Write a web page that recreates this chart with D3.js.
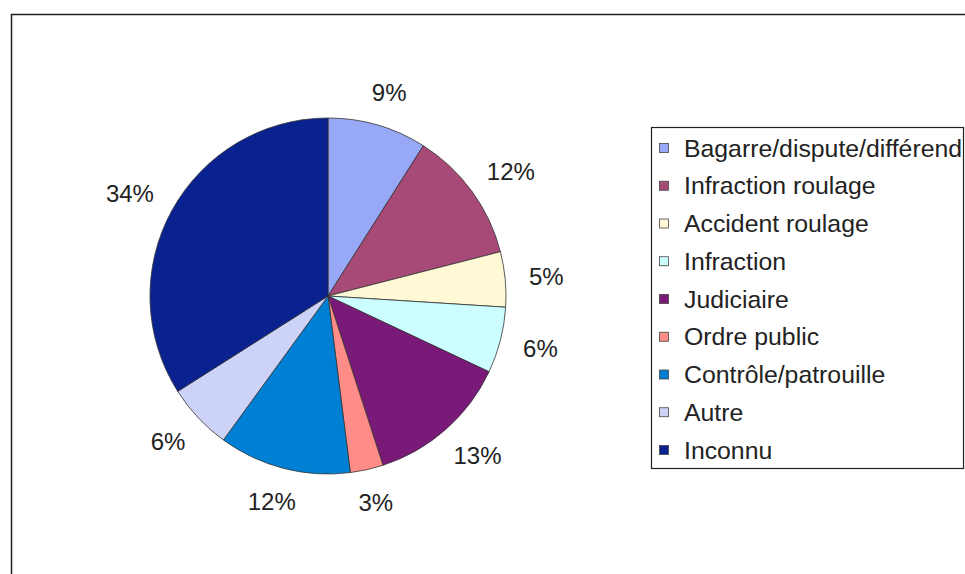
<!DOCTYPE html>
<html>
<head>
<meta charset="utf-8">
<script src="https://cdn.jsdelivr.net/npm/d3@7"></script>
<style>
  html, body { margin: 0; padding: 0; background: #fff; }
  svg { display: block; }
</style>
</head>
<body>
<svg id="chart" width="965" height="574"></svg>
<script>
// Interventions by type (percent of total)
const categories = [
  "Bagarre/dispute/différend",
  "Infraction roulage",
  "Accident roulage",
  "Infraction",
  "Judiciaire",
  "Ordre public",
  "Contrôle/patrouille",
  "Autre",
  "Inconnu"
];
const values = [9, 12, 5, 6, 13, 3, 12, 6, 34];
const colors = [
  "#97a8f6", "#a84a78", "#fff9d6", "#ccfdff", "#7a1a78",
  "#ff8c86", "#0080d4", "#cdd3f8", "#0a2290"
];

const svg = d3.select("#chart");
const font = "'Liberation Sans', Arial, sans-serif";
const fontSize = 24;
const legendFontSize = 24.8;

// Outer frame (runs off the right and bottom edges)
svg.append("rect")
  .attr("x", 11.5).attr("y", 14.5)
  .attr("width", 1000).attr("height", 600)
  .attr("fill", "none").attr("stroke", "#222").attr("stroke-width", 1.5);

const cx = 328, cy = 296, r = 178;
const data = categories.map((c, i) => ({ name: c, value: values[i], color: colors[i] }));

const pie = d3.pie().value(d => d.value).sort(null);
const arcs = pie(data);
const arc = d3.arc().innerRadius(0).outerRadius(r);

const g = svg.append("g").attr("transform", `translate(${cx},${cy})`);

g.selectAll("path.slice")
  .data(arcs)
  .join("path")
  .attr("class", "slice")
  .attr("d", arc)
  .attr("fill", d => d.data.color)
  .attr("stroke", "#333")
  .attr("stroke-width", 0.8);

// Percent labels: the label box sits just outside the rim, pushed
// outward along the slice's mid-angle by half its own size.
const labelR = r + 24;
const labels = g.selectAll("text.pct")
  .data(arcs)
  .join("text")
  .attr("class", "pct")
  .attr("text-anchor", "middle")
  .attr("dominant-baseline", "central")
  .attr("font-family", font)
  .attr("font-size", fontSize)
  .attr("fill", "#222")
  .text(d => d.data.value + "%");

labels.each(function(d) {
  const bb = this.getBBox();
  const a = (d.startAngle + d.endAngle) / 2;
  const sx = Math.sin(a), cy_ = -Math.cos(a);
  const x = labelR * sx + (bb.width / 2) * sx;
  const y = labelR * cy_ + (fontSize * 0.42) * cy_;
  d3.select(this).attr("transform", `translate(${x},${y})`);
});

// Legend
const lx = 651, ly = 127.5, lw = 312, lh = 341;
svg.append("rect")
  .attr("x", lx + 0.5).attr("y", ly)
  .attr("width", lw).attr("height", lh)
  .attr("fill", "#fff").attr("stroke", "#222").attr("stroke-width", 1.2);

const rowY = d3.scalePoint().domain(categories).range([148, 450]);
const items = svg.append("g").selectAll("g.item")
  .data(data)
  .join("g")
  .attr("class", "item")
  .attr("transform", d => `translate(0,${rowY(d.name)})`);

items.append("rect")
  .attr("x", 659.5).attr("y", -4.5)
  .attr("width", 9).attr("height", 9)
  .attr("fill", d => d.color)
  .attr("stroke", "#444").attr("stroke-width", 0.8);

items.append("text")
  .attr("x", 684).attr("y", 0)
  .attr("dominant-baseline", "central")
  .attr("font-family", font)
  .attr("font-size", legendFontSize)
  .attr("fill", "#222")
  .text(d => d.name);
</script>
</body>
</html>
